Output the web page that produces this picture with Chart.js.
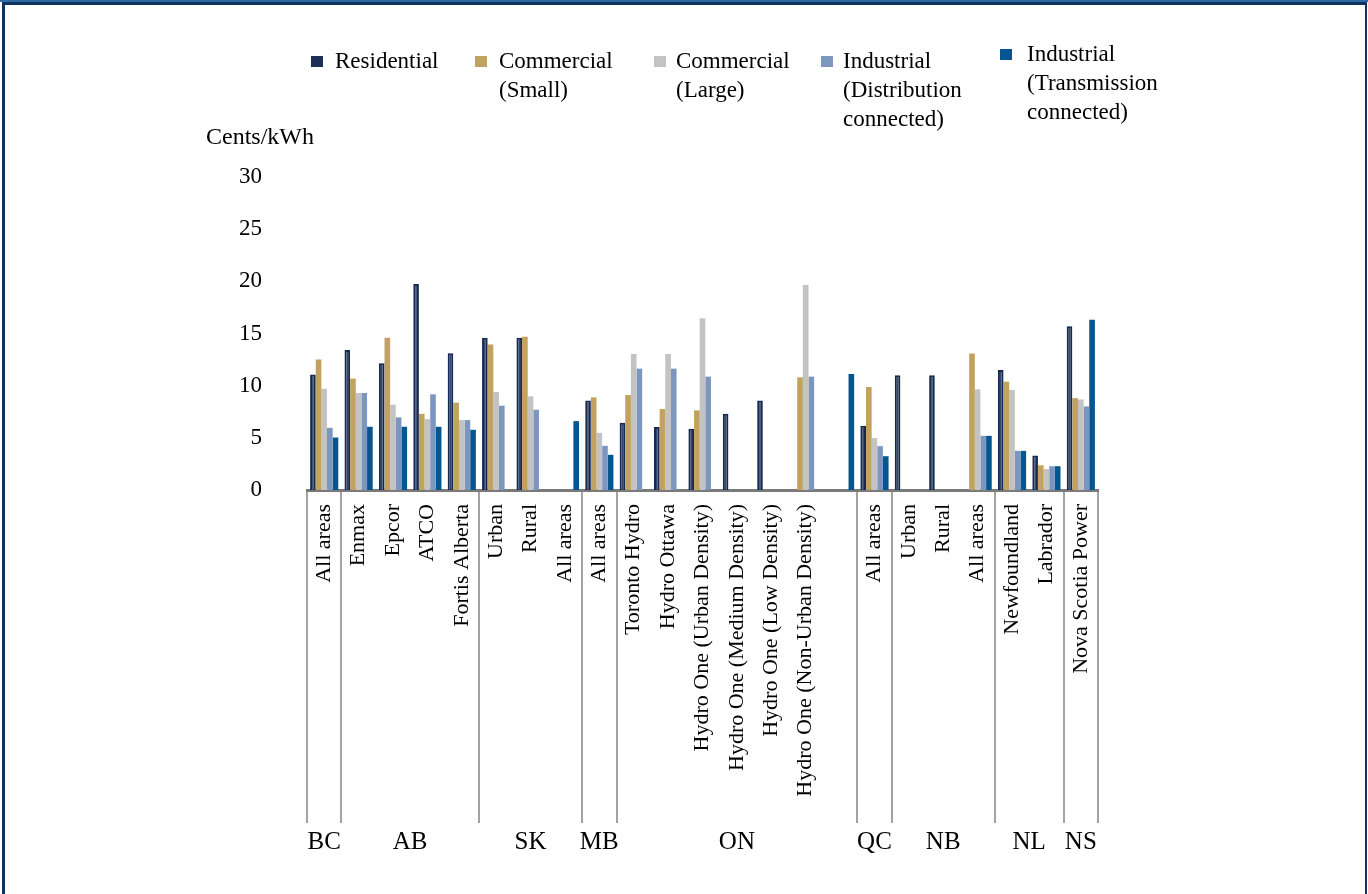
<!DOCTYPE html>
<html>
<head>
<meta charset="utf-8">
<script src="https://cdn.jsdelivr.net/npm/chart.js@4.4.0/dist/chart.umd.min.js"></script>
<style>
html, body { margin: 0; padding: 0; background: #fff; }
body { width: 1368px; height: 894px; overflow: hidden; position: relative; }
#topline { position: absolute; left: 0; top: 0; width: 1368px; height: 2px; background: #2d6aa5; }
#frame { position: absolute; left: 2px; top: 2px; width: 1360px; height: 1000px;
  border-left: 3px solid #0f355f; border-top: 3px solid #0f355f; border-right: 2px solid #0f355f; }
canvas { position: absolute; left: 0; top: 0; }
</style>
</head>
<body>
<div id="topline"></div>
<div id="frame"></div>
<canvas id="barChart" width="1368" height="894"></canvas>
<script>
// datos (cents/kWh)
const categorias = ['All areas', 'Enmax', 'Epcor', 'ATCO', 'Fortis Alberta', 'Urban', 'Rural', 'All areas',
  'All areas', 'Toronto Hydro', 'Hydro Ottawa', 'Hydro One (Urban Density)', 'Hydro One (Medium Density)',
  'Hydro One (Low Density)', 'Hydro One (Non-Urban Density)', '', 'All areas', 'Urban', 'Rural', 'All areas',
  'Newfoundland', 'Labrador', 'Nova Scotia Power'];

const provincias = ['BC', 'AB', 'SK', 'MB', 'ON', 'QC', 'NB', 'NL', 'NS'];
const provinciasTamano = [1, 4, 3, 1, 7, 1, 3, 2, 1];

const residencial = [11.06, 13.43, 12.15, 19.74, 13.1, 14.6, 14.6, null, 8.59, 6.44, 6.03, 5.87, 7.3, 8.59, null, null, 6.15, 11.0, 11.0, null, 11.5, 3.3, 15.7];
const comercialPeq = [12.5, 10.67, 14.6, 7.3, 8.37, 13.94, 14.68, null, 8.88, 9.1, 7.76, 7.63, null, null, 10.8, null, 9.87, null, null, 13.08, 10.38, 2.37, 8.81];
const comercialGrande = [9.7, 9.3, 8.17, 6.8, 6.7, 9.39, 8.97, null, 5.48, 13.04, 13.04, 16.47, null, null, 19.65, null, 4.97, null, null, 9.65, 9.6, 2.0, 8.68];
const industrialDist = [5.96, 9.3, 6.96, 9.17, 6.7, 8.08, 7.69, null, 4.23, 11.63, 11.63, 10.87, null, null, 10.87, null, 4.2, null, null, 5.19, 3.75, 2.28, 8.01];
const industrialTrans = [5.03, 6.06, 6.06, 6.06, 5.77, null, null, 6.6, 3.37, null, null, null, null, null, null, 11.12, 3.24, null, null, 5.19, 3.75, 2.28, 16.31];

const yTicks = [0, 5, 10, 15, 20, 25, 30];

const nombresSeries = [
  ['Residential'],
  ['Commercial', '(Small)'],
  ['Commercial', '(Large)'],
  ['Industrial', '(Distribution', 'connected)'],
  ['Industrial', '(Transmission', 'connected)']
];
const coloresSeries = ['#1c2f56', '#c2a25f', '#c3c3c3', '#7b97c0', '#03568f'];

const FONT = '"Liberation Serif", "Times New Roman", serif';

// leyenda, titulo del eje y grupos de provincias
const extrasPlugin = {
  id: 'extras',
  afterDraw(chart) {
    const ctx = chart.ctx;
    const xs = chart.scales.x;
    const area = chart.chartArea;
    ctx.save();

    // lineas separadoras y nombres de provincias
    ctx.strokeStyle = '#a3a3a3';
    ctx.lineWidth = 2;
    let idx = 0;
    const bordes = [0];
    provinciasTamano.forEach(n => { idx += n; bordes.push(idx); });
    bordes.forEach(b => {
      const px = Math.round(xs.getPixelForValue(b - 0.5));
      ctx.beginPath();
      ctx.moveTo(px, area.bottom + 2);
      ctx.lineTo(px, area.bottom + 333);
      ctx.stroke();
    });
    ctx.fillStyle = '#000';
    ctx.font = '25px ' + FONT;
    ctx.textAlign = 'center';
    ctx.textBaseline = 'middle';
    provincias.forEach((p, i) => {
      const c = xs.getPixelForValue((bordes[i] + bordes[i + 1]) / 2 - 0.5);
      ctx.fillText(p, c, area.bottom + 352);
    });

    // titulo del eje y
    ctx.textAlign = 'left';
    ctx.font = '24px ' + FONT;
    ctx.fillText('Cents/kWh', 206, 138);

    // leyenda
    const legendPos = [[311, 62], [475, 62], [654, 62], [821, 62], [1000, 55]];
    const textoX = [335, 499, 676, 843, 1027];
    ctx.font = '23px ' + FONT;
    nombresSeries.forEach((lineas, i) => {
      const [bx, by] = legendPos[i];
      ctx.fillStyle = coloresSeries[i];
      ctx.fillRect(bx, by - 6, 12, 11);
      ctx.fillStyle = '#000';
      lineas.forEach((t, k) => ctx.fillText(t, textoX[i], by + k * 29));
    });
    ctx.restore();
  }
};

const barCtx = document.getElementById('barChart').getContext('2d');

window.barChartInstance = new Chart(barCtx, {
  type: 'bar',
  data: {
    labels: categorias,
    datasets: [
      { label: nombresSeries[0].join(' '), data: residencial, backgroundColor: '#34466b', borderColor: '#142a50', borderWidth: 2, borderSkipped: 'bottom' },
      { label: nombresSeries[1].join(' '), data: comercialPeq, backgroundColor: coloresSeries[1] },
      { label: nombresSeries[2].join(' '), data: comercialGrande, backgroundColor: coloresSeries[2] },
      { label: nombresSeries[3].join(' '), data: industrialDist, backgroundColor: coloresSeries[3] },
      { label: nombresSeries[4].join(' '), data: industrialTrans, backgroundColor: coloresSeries[4] }
    ]
  },
  options: {
    responsive: false,
    animation: false,
    layout: { padding: { left: 207, right: 270, top: 177, bottom: 64 } },
    datasets: { bar: { categoryPercentage: 0.82, barPercentage: 1.0 } },
    plugins: { legend: { display: false }, tooltip: { enabled: false } },
    scales: {
      x: {
        grid: { display: false },
        border: { display: true, color: '#7a7a7a', width: 3 },
        ticks: {
          autoSkip: false, minRotation: 90, maxRotation: 90, padding: 6,
          color: '#000', font: { family: FONT, size: 22 }
        },
        afterFit(scale) { scale.height = 340; }
      },
      y: {
        min: 0, max: 30,
        grid: { display: false },
        border: { display: false },
        afterBuildTicks(scale) { scale.ticks = yTicks.map(v => ({ value: v })); },
        ticks: { padding: 37, color: '#000', font: { family: FONT, size: 23 } },
        afterFit(scale) { scale.width = 100; }
      }
    }
  },
  plugins: [extrasPlugin]
});
</script>
</body>
</html>
